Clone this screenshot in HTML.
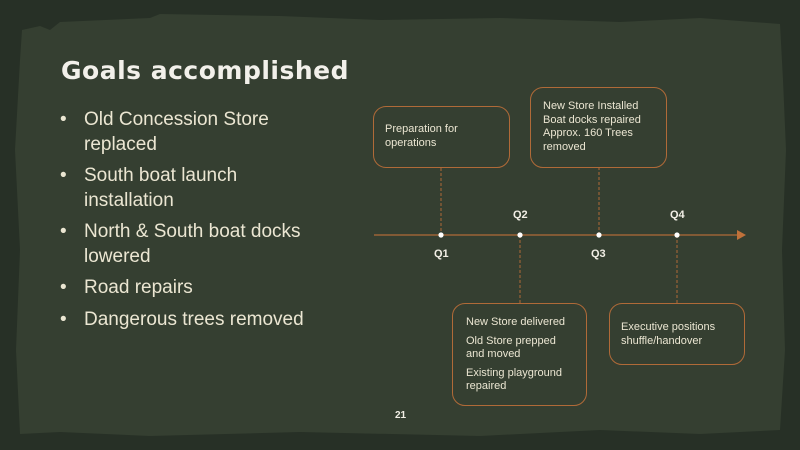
<!DOCTYPE html>
<html><head><meta charset="utf-8"><style>
body{margin:0;width:800px;height:450px;overflow:hidden;background:#273026;position:relative;font-family:"Liberation Sans",sans-serif;}
.a{position:absolute}
.t{color:#f2f0ea;font-weight:bold;font-size:25px;left:61px;top:56px;letter-spacing:0.5px;font-family:"DejaVu Sans","Liberation Sans",sans-serif}
ul{position:absolute;left:60px;top:108px;margin:0;padding:0;list-style:none;color:#ebe6d2;font-size:19px;line-height:24.5px}
li{position:relative;padding-left:24px;margin-bottom:7px}
li:before{content:"•";position:absolute;left:0}
.box{position:absolute;border:1.3px solid #b06a38;border-radius:13px;color:#ebe6d2;font-size:11px;line-height:13.5px;box-sizing:border-box}
.q{position:absolute;color:#f2efe6;font-weight:bold;font-size:11px}
</style></head><body>
<svg class="a" style="left:0;top:0" width="800" height="450">
<path d="M22 30 L40 26 L50 30 L60 22 L150 18 L160 14 L280 16 L380 20 L500 18 L620 22 L700 18 L780 24 L783 80 L786 150 L782 250 L785 350 L780 430 L700 434 L600 430 L480 436 L300 432 L150 436 L60 432 L20 434 L16 350 L20 250 L15 150 L20 60 Z" fill="#353f31"/>
<line x1="374" y1="235" x2="740" y2="235" stroke="#b06a38" stroke-width="1.3"/>
<polygon points="737,230 746,235 737,240" fill="#c0713a"/>
<g stroke="#b06a38" stroke-width="1" stroke-dasharray="3,2">
<line x1="441" y1="168" x2="441" y2="235"/><line x1="520" y1="235" x2="520" y2="303"/>
<line x1="599" y1="167" x2="599" y2="235"/><line x1="677" y1="235" x2="677" y2="303"/></g>
<g fill="#fff"><circle cx="441" cy="235" r="2.6"/><circle cx="520" cy="235" r="2.6"/><circle cx="599" cy="235" r="2.6"/><circle cx="677" cy="235" r="2.6"/></g>
</svg>
<div class="a t">Goals accomplished</div>
<ul><li>Old Concession Store<br>replaced</li><li>South boat launch<br>installation</li><li>North &amp; South boat docks<br>lowered</li><li>Road repairs</li><li>Dangerous trees removed</li></ul>
<div class="box" style="left:373px;top:106px;width:137px;height:62px;padding:16px 0 0 11px">Preparation for<br>operations</div>
<div class="box" style="left:530px;top:87px;width:137px;height:81px;padding:12px 0 0 12px">New Store Installed<br>Boat docks repaired<br>Approx. 160 Trees<br>removed</div>
<div class="box" style="left:452px;top:303px;width:135px;height:103px;padding:12px 0 0 13px">New Store delivered<div style="margin-top:5px">Old Store prepped<br>and moved</div><div style="margin-top:5px">Existing playground<br>repaired</div></div>
<div class="box" style="left:609px;top:303px;width:136px;height:62px;padding:17px 0 0 11px">Executive positions<br>shuffle/handover</div>
<div class="q" style="left:434px;top:248px">Q1</div>
<div class="q" style="left:513px;top:209px">Q2</div>
<div class="q" style="left:591px;top:248px">Q3</div>
<div class="q" style="left:670px;top:209px">Q4</div>
<div class="q" style="left:395px;top:410px;font-size:10px">21</div>
</body></html>
